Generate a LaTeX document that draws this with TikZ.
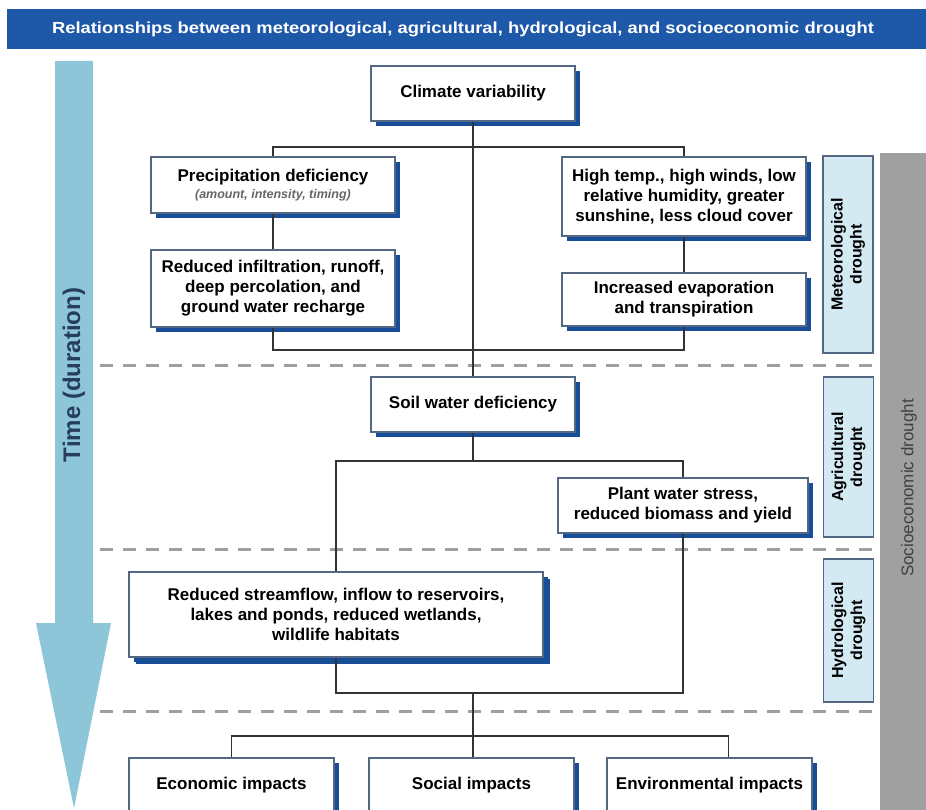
\documentclass[tikz,border=0pt]{standalone}
\usepackage{fontspec}
\setmainfont{Liberation Sans}
\usetikzlibrary{shadows}

\definecolor{barblue}{RGB}{30,88,168}
\definecolor{shadeblue}{RGB}{24,78,152}
\definecolor{edgeblue}{RGB}{84,104,132}
\definecolor{arrowblue}{RGB}{140,198,216}
\definecolor{paleblue}{RGB}{212,234,242}
\definecolor{timeblue}{RGB}{38,62,92}
\definecolor{sidegray}{RGB}{160,160,160}

\begin{document}
\begin{tikzpicture}[x=1pt,y=-1pt,
  dbox/.style={draw=edgeblue,line width=1.2pt,fill=white,align=center,inner sep=2pt,
    font=\fontsize{17}{20}\selectfont\bfseries,
    drop shadow={shadow xshift=5pt,shadow yshift=-5pt,fill=shadeblue,opacity=1}},
  phase/.style={draw=edgeblue,line width=1.2pt,fill=paleblue,rotate=90,align=center,
    minimum height=50pt,inner sep=1pt,font=\fontsize{16}{19}\selectfont\bfseries},
  link/.style={line width=1.2pt,black!80},
  sep/.style={line width=3pt,gray!75,dash pattern=on 13pt off 10pt}]
\useasboundingbox (0,0) rectangle (926,810);
\clip (0,0) rectangle (926,810);

  % title bar
  \fill[barblue] (7,9) rectangle (926,49);
  \node[text=white,font=\fontsize{16}{18}\selectfont\bfseries] (title) at (463,29)
    {\scalebox{1.15}[1]{Relationships between meteorological, agricultural, hydrological, and socioeconomic drought}};

  % time arrow
  \fill[arrowblue] (55,61)--(93,61)--(93,623)--(111,623)--(74,808)--(36,623)--(55,623)--cycle;
  \node[rotate=90,text=timeblue,font=\fontsize{24}{28}\selectfont\bfseries] (time) at (74,375) {Time (duration)};

  % socioeconomic band
  \fill[sidegray] (880,153) rectangle (926,812);
  \node[rotate=90,text=black!75,font=\fontsize{17}{20}\selectfont] (socio) at (909,488) {Socioeconomic drought};

  % phase separators
  \draw[sep] (100,365)--(880,365);
  \draw[sep] (100,549)--(880,549);
  \draw[sep] (100,711)--(880,711);

  \node[phase,minimum width=197pt] (met) at (848,254.5) {Meteorological\\drought};
  \node[phase,minimum width=160pt] (agr) at (848.5,457) {Agricultural\\drought};
  \node[phase,minimum width=143pt] (hyd) at (848.5,630.5) {Hydrological\\drought};

  % boxes
  \node[dbox,minimum width=204pt,minimum height=55pt] (climate) at (473,93.5) {Climate variability};
  \node[dbox,minimum width=244pt,minimum height=56pt] (precip) at (273,185)
    {Precipitation deficiency\\[-3pt]{\fontsize{12.5}{14}\selectfont\itshape\color{black!60}(amount, intensity, timing)}};
  \node[dbox,minimum width=244pt,minimum height=77pt] (infil) at (273,288.5)
    {Reduced infiltration, runoff,\\deep percolation, and\\ground water recharge};
  \node[dbox,minimum width=244pt,minimum height=79pt] (heat) at (684,196.5)
    {High temp., high winds, low\\relative humidity, greater\\sunshine, less cloud cover};
  \node[dbox,minimum width=244pt,minimum height=53pt] (evap) at (684,299.5)
    {Increased evaporation\\and transpiration};
  \node[dbox,minimum width=204pt,minimum height=55pt] (soil) at (473,404.5) {Soil water deficiency};
  \node[dbox,minimum width=250pt,minimum height=55pt] (plant) at (683,505.5)
    {Plant water stress,\\reduced biomass and yield};
  \node[dbox,minimum width=414pt,minimum height=85pt,
    drop shadow={shadow xshift=7pt,shadow yshift=-7pt,fill=shadeblue,opacity=1}] (stream) at (336,614.5)
    {Reduced streamflow, inflow to reservoirs,\\lakes and ponds, reduced wetlands,\\wildlife habitats};
  \node[dbox,minimum width=205pt,minimum height=54pt] (econ) at (231.5,785) {Economic impacts};
  \node[dbox,minimum width=205pt,minimum height=54pt] (social) at (471.5,785) {Social impacts};
  \node[dbox,minimum width=205pt,minimum height=54pt] (env) at (709.5,785) {Environmental impacts};

  % connectors
  \coordinate (split1) at (473,147);
  \coordinate (join1) at (473,350);
  \coordinate (split2) at (473,461);
  \coordinate (join2) at (473,693);
  \coordinate (split3) at (473,736);

  \draw[link] (climate.south)--(soil.north);
  \draw[link] (precip.north) |- (split1) -| (heat.north);
  \draw[link] (precip)--(infil);
  \draw[link] (heat)--(evap);
  \draw[link] (infil.south) |- (join1) -| (evap.south);
  \draw[link] (stream.north) |- (split2) -| (plant.north);
  \draw[link] (soil.south)--(split2);
  \draw[link] (stream.south) |- (join2) -| (plant.south);
  \draw[link] (join2)--(split3);
  \draw[link] (econ.north) |- (split3) -| ([xshift=19pt]env.north);
  \draw[link] (split3)--(split3 |- social.north);

\end{tikzpicture}
\end{document}
